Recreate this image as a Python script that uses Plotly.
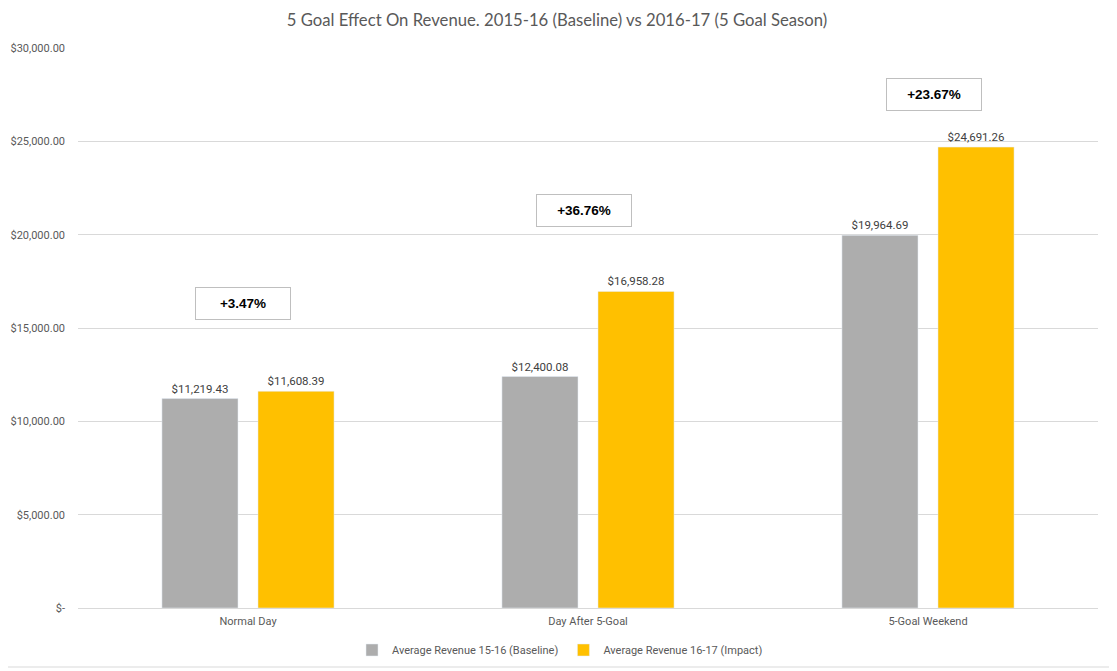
import plotly.graph_objects as go

categories = ["Normal Day", "Day After 5-Goal", "5-Goal Weekend"]
baseline = [11219.43, 12400.08, 19964.69]
impact = [11608.39, 16958.28, 24691.26]
series_names = ["Average Revenue 15-16 (Baseline)", "Average Revenue 16-17 (Impact)"]
pct_labels = ["+3.47%", "+36.76%", "+23.67%"]
pct_label_y = [16300, 21300, 27500]
tick_vals = [0, 5000, 10000, 15000, 20000, 25000, 30000]
tick_text = ["$-", "$5,000.00", "$10,000.00", "$15,000.00", "$20,000.00", "$25,000.00", "$30,000.00"]

FONT = "Liberation Sans Narrow, Roboto, sans-serif"
LABEL_COLOR = "#404040"

# page has an 8px body margin; compensate so the plot lands at the reference position
W, H = 1109, 663
ML, MT, MR, MB = 70, 40, 19, 63
PW, PH = W - ML - MR, H - MT - MB
BOX_XSHIFT = [-5, -4, 6]

def money(v):
    return "${:,.2f}".format(v)

fig = go.Figure()
fig.add_trace(go.Bar(
    x=categories, y=baseline, name=series_names[0],
    marker_color="#ADADAD",
    text=[money(v) for v in baseline], textposition="outside",
    textfont=dict(size=11.5, color=LABEL_COLOR, family=FONT),
    cliponaxis=False,
))
fig.add_trace(go.Bar(
    x=categories, y=impact, name=series_names[1],
    marker_color="#FFC000",
    text=[money(v) for v in impact], textposition="outside",
    textfont=dict(size=11.5, color=LABEL_COLOR, family=FONT),
    cliponaxis=False,
))

for c, t, y, xs in zip(categories, pct_labels, pct_label_y, BOX_XSHIFT):
    fig.add_annotation(
        x=c, y=y, text="<b>" + t + "</b>", showarrow=False, xshift=xs,
        font=dict(size=13.5, color="#000000", family="Liberation Sans, Arial, sans-serif"),
        bordercolor="#BFBFBF", borderwidth=1, borderpad=8,
        width=78, bgcolor="white",
    )

# outer chart border (right and bottom edges visible in the reference)
bx = (1105 - ML) / PW
by = -(659 - (MT + PH)) / PH
fig.add_shape(type="line", xref="paper", yref="paper",
              x0=bx, x1=bx, y0=by, y1=1 + MT / PH,
              line=dict(color="#D9D9D9", width=1), layer="below")
fig.add_shape(type="line", xref="paper", yref="paper",
              x0=-ML / PW, x1=bx, y0=by, y1=by,
              line=dict(color="#D9D9D9", width=1), layer="below")

fig.update_layout(
    width=W, height=H,
    margin=dict(l=ML, r=MR, t=MT, b=MB, autoexpand=False),
    paper_bgcolor="white", plot_bgcolor="white",
    barmode="group", bargap=0.435, bargroupgap=0.208,
    title=dict(
        text="5 Goal Effect On Revenue. 2015-16 (Baseline) vs 2016-17 (5 Goal Season)",
        x=0.5 - 5.5 / W, xanchor="center", y=1 - 12 / H, yanchor="middle",
        font=dict(size=16.7, color="#595959", family="Lato, Open Sans, sans-serif"),
    ),
    font=dict(family=FONT, color="#595959", size=11),
    xaxis=dict(
        showgrid=False, showline=True, linecolor="#D9D9D9", linewidth=1,
        ticks="", tickfont=dict(size=11, color="#595959", family=FONT),
        ticklabelstandoff=3, automargin=False,
    ),
    yaxis=dict(
        range=[0, 30000], tickvals=tick_vals, ticktext=tick_text,
        showgrid=True, gridcolor="#D9D9D9", gridwidth=1,
        zeroline=False, showline=False, ticks="",
        tickfont=dict(size=11, color="#595959", family=FONT),
        ticklabelstandoff=12, automargin=False,
    ),
    legend=dict(
        orientation="h", x=0.5 - 28 / PW, xanchor="center", y=-0.075, yanchor="middle",
        font=dict(size=11, color="#595959", family=FONT),
        itemwidth=30, tracegroupgap=0,
    ),
    showlegend=True,
)

fig.write_html("out.html")
